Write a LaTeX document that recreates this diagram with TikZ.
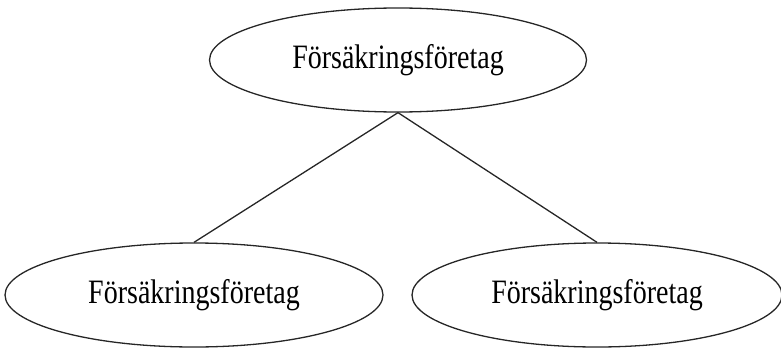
\documentclass[tikz,border=0pt]{standalone}
\usepackage{fontspec}
\setmainfont{Liberation Serif}
\usepackage{tikz}
\usetikzlibrary{shapes.geometric, %for ellipses
                positioning}

\begin{document}
\begin{tikzpicture}[x=1pt,y=1pt,
                    firm/.style={draw=black!85, line width=1.3pt, ellipse, inner sep=0,
                                 minimum width=#1, minimum height=104pt,
                                 font=\fontsize{28}{30}\selectfont},
                    firm/.default=378pt,
                    link/.style={draw=black!85, line width=1.3pt}
                    ]
    \useasboundingbox (0,0) rectangle (781,349);
    \newcommand{\firmtext}{\scalebox{1}[1.22]{Försäkringsföretag}}
    %company nodes
    \node[firm=377pt] at (398,289) (Top){\firmtext};
    \node[firm]       at (194,54)  (Left){\firmtext};
    \node[firm=370pt] at (597,54)  (Right){\firmtext};

    \draw[link] (Top.south) -- (Left.north);
    \draw[link] (Top.south) -- (Right.north);

    \end{tikzpicture}
\end{document}
